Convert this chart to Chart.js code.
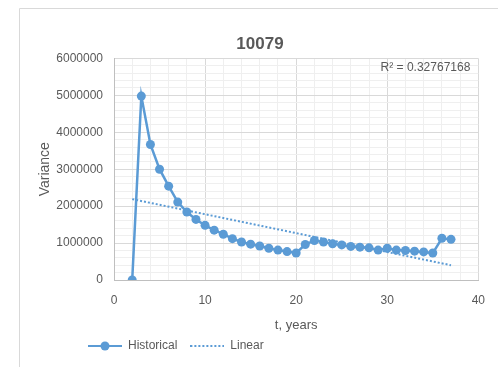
<!DOCTYPE html>
<html>
<head>
  <title>10079</title>
  <script src="https://cdn.jsdelivr.net/npm/chart.js@4"></script>
  <style>
    body { margin: 0; background: #fff; }
    #wrap { width: 498px; height: 367px; }
  </style>
</head>
<body>
<div id="wrap">
  <canvas id="myChart" width="498" height="367"></canvas>
</div>

<script>
  // t, years
  const years = [2, 3, 4, 5, 6, 7, 8, 9, 10, 11, 12, 13, 14, 15, 16, 17, 18, 19, 20,
    21, 22, 23, 24, 25, 26, 27, 28, 29, 30, 31, 32, 33, 34, 35, 36, 37];
  // historical variance
  const variance = [0, 4980000, 3670000, 3000000, 2540000, 2110000, 1840000, 1640000, 1480000,
    1350000, 1240000, 1120000, 1030000, 970000, 920000, 860000, 810000, 770000, 730000,
    960000, 1070000, 1030000, 980000, 950000, 910000, 890000, 870000, 810000, 860000,
    810000, 800000, 780000, 760000, 730000, 1130000, 1100000];
  // linear trendline end points
  const trendYears = [2, 37];
  const trendValues = [2190000, 400000];
  const rSquared = 'R\u00b2 = 0.32767168';

  const blue = '#5b9bd5';
  const gray = '#595959';
  const font = 'Liberation Sans';

  // legend icons: line with a marker, and a dotted line
  function icon(dotted) {
    const c = document.createElement('canvas');
    c.width = 34; c.height = 10;
    const g = c.getContext('2d');
    g.strokeStyle = blue;
    g.lineWidth = 2;
    if (dotted) g.setLineDash([2, 2]);
    g.beginPath(); g.moveTo(0, 5); g.lineTo(34, 5); g.stroke();
    if (!dotted) {
      g.fillStyle = blue;
      g.beginPath(); g.arc(17, 5, 4.5, 0, Math.PI * 2); g.fill();
    }
    return c;
  }

  const frame = {
    id: 'frame',
    afterLayout(chart) {
      // legend sits left of centre in the original
      chart.legend.left = 75;
    },
    afterDraw(chart) {
      const ctx = chart.ctx;
      ctx.save();
      ctx.strokeStyle = '#d9d9d9';
      ctx.lineWidth = 1;
      ctx.beginPath();
      ctx.moveTo(19.5, 367); ctx.lineTo(19.5, 8.5); ctx.lineTo(498, 8.5);
      ctx.stroke();
      ctx.fillStyle = gray;
      ctx.font = '12px "' + font + '"';
      ctx.textAlign = 'right';
      ctx.textBaseline = 'middle';
      ctx.fillText(rSquared, chart.chartArea.right - 8, chart.chartArea.top + 9);
      ctx.restore();
    }
  };

  const isMajor = (v, step) => Math.abs(v % step) < 1e-6;

  new Chart(document.getElementById('myChart').getContext('2d'), {
    type: 'line',
    data: {
      datasets: [{
        label: 'Historical',
        data: years.map((x, i) => ({ x: x, y: variance[i] })),
        borderColor: blue,
        backgroundColor: blue,
        borderWidth: 2.5,
        pointRadius: 4.5,
        pointBorderWidth: 0,
        fill: false,
        tension: 0,
        pointStyle: 'circle'
      }, {
        label: 'Linear',
        data: trendYears.map((x, i) => ({ x: x, y: trendValues[i] })),
        borderColor: blue,
        borderWidth: 2,
        borderDash: [2, 2],
        pointRadius: 0,
        fill: false
      }]
    },
    options: {
      responsive: false,
      animation: false,
      layout: { padding: { left: 36, top: 34, right: 14, bottom: 5 } },
      plugins: {
        title: {
          display: true,
          text: '10079',
          color: gray,
          font: { family: font, size: 17, weight: 'bold' },
          padding: { top: 0, bottom: 4 }
        },
        legend: {
          position: 'bottom',
          align: 'start',
          labels: {
            color: gray,
            font: { family: font, size: 12 },
            usePointStyle: true,
            pointStyleWidth: 34,
            padding: 13,
            generateLabels: chart => chart.data.datasets.map((d, i) => ({
              text: d.label,
              pointStyle: icon(i === 1),
              fontColor: gray,
              datasetIndex: i,
              lineWidth: 0
            }))
          }
        },
        tooltip: { enabled: false }
      },
      scales: {
        x: {
          type: 'linear',
          min: 0,
          max: 40,
          ticks: {
            stepSize: 2,
            autoSkip: false,
            maxRotation: 0,
            color: gray,
            font: { family: font, size: 12 },
            padding: 13,
            callback: v => isMajor(v, 10) ? v : ''
          },
          grid: {
            drawTicks: false,
            color: c => isMajor(c.tick.value, 10) ? '#d9d9d9' : '#efefef'
          },
          border: { color: '#bfbfbf' },
          title: {
            display: true,
            text: 't, years',
            color: gray,
            font: { family: font, size: 13 },
            padding: { top: 0, bottom: -6 }
          },
          afterFit: s => { s.height = 47; }
        },
        y: {
          min: 0,
          max: 6000000,
          ticks: {
            stepSize: 200000,
            autoSkip: false,
            color: gray,
            font: { family: font, size: 12 },
            padding: 11,
            callback: v => isMajor(v, 1000000) ? v : ''
          },
          grid: {
            drawTicks: false,
            color: c => isMajor(c.tick.value, 1000000) ? '#d9d9d9' : '#efefef'
          },
          border: { color: '#bfbfbf' },
          title: {
            display: true,
            text: 'Variance',
            color: gray,
            font: { family: font, size: 14 },
            padding: { top: 1, bottom: 0 }
          },
          afterFit: s => { s.width = 78; }
        }
      }
    },
    plugins: [frame]
  });
</script>
</body>
</html>
